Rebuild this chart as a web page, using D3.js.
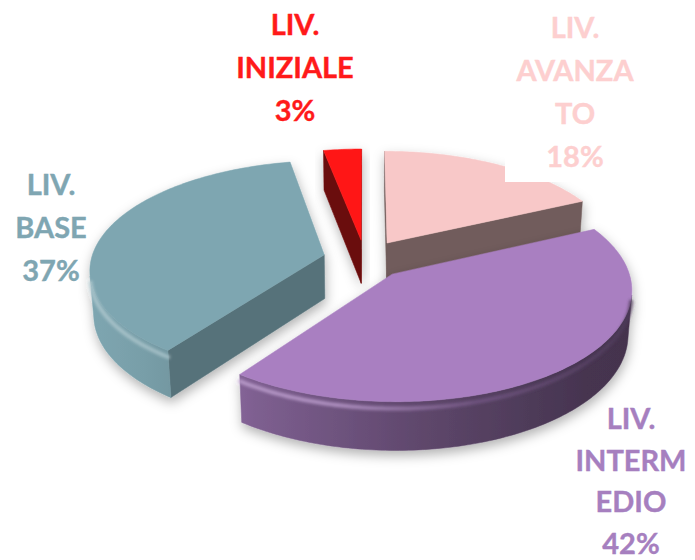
<!DOCTYPE html>
<html>
<head>
<meta charset="utf-8">
<script src="https://cdn.jsdelivr.net/npm/d3@7"></script>
<style>
  body { margin: 0; background: #fff; }
  svg { display: block; }
</style>
</head>
<body>
<svg id="pieChart" width="695" height="560"></svg>
<script>
// data, clockwise from 12 o'clock
const categories = ["LIV. AVANZATO", "LIV. INTERMEDIO", "LIV. BASE", "LIV. INIZIALE"];
const values = [18, 42, 37, 3];
const labelLines = [["LIV.", "AVANZA", "TO"], ["LIV.", "INTERM", "EDIO"], ["LIV.", "BASE"], ["LIV.", "INIZIALE"]];

// styles
const topColors = ["#f8c8c8", "#a97fc1", "#7ea6b1", "#ff1717"];
const cutColors = ["#715c5b", "#4e3c5a", "#57727a", "#6b0a0a"];
const textColors = ["#fdcfcf", "#a67fbf", "#7fa6b2", "#ff1a1a"];
const labelPos = [[575, 38, 43], [631, 429, 41.5], [51, 195, 43], [295, 35, 43]];

const svg = d3.select("#pieChart");
const defs = svg.append("defs");

// camera: tilted disc seen in perspective
const view = { cx: 365, cy: 259, k: 1631, D: 7, tilt: Math.asin(0.46) };
const sinT = Math.sin(view.tilt), cosT = Math.cos(view.tilt);
const thick = 0.215, explode = 0.18;
const cam = [0, view.D * sinT, view.D * cosT];

function project(X, Y, Z) {
  const depth = view.D - (Y * sinT + Z * cosT);
  return [view.cx + X * view.k / depth, view.cy - (Y * cosT - Z * sinT) * view.k / depth];
}
function facing(n, p) {
  return n[0] * (cam[0] - p[0]) + n[1] * (cam[1] - p[1]) + n[2] * (cam[2] - p[2]) > 0;
}

const pie = d3.pie().sort(null).value(d => d);
const arcs = pie(values);

// wall lighting across the picture, light from the left
const shade = d3.scaleLinear().domain([90, 180, 250, 430, 600]).range([1.0, 0.92, 0.75, 0.55, 0.4]).clamp(true);

const shadow = defs.append("filter").attr("id", "shadow")
  .attr("x", "-20%").attr("y", "-20%").attr("width", "140%").attr("height", "150%");
shadow.append("feDropShadow").attr("dx", 1).attr("dy", 5).attr("stdDeviation", 6)
  .attr("flood-color", "#000").attr("flood-opacity", 0.3);

defs.append("filter").attr("id", "soft")
  .append("feGaussianBlur").attr("stdDeviation", 1.6);

topColors.forEach((c, i) => {
  const g = defs.append("linearGradient").attr("id", "wall" + i)
    .attr("gradientUnits", "userSpaceOnUse").attr("x1", 90).attr("x2", 640).attr("y1", 0).attr("y2", 0);
  d3.range(0, 1.001, 0.1).forEach(t => {
    const x = 90 + t * 550;
    g.append("stop").attr("offset", t).attr("stop-color", d3.interpolateRgb(c, "#000")(1 - shade(x)));
  });
  // rim bevel: highlight on the left, dark on the right
  const b = defs.append("linearGradient").attr("id", "bevel" + i)
    .attr("gradientUnits", "userSpaceOnUse").attr("x1", 90).attr("x2", 640).attr("y1", 0).attr("y2", 0);
  b.append("stop").attr("offset", 0).attr("stop-color", d3.interpolateRgb(c, "#fff")(0.4));
  b.append("stop").attr("offset", 0.45).attr("stop-color", d3.interpolateRgb(c, "#fff")(0.25));
  b.append("stop").attr("offset", 0.7).attr("stop-color", d3.interpolateRgb(c, "#000")(0.3));
  b.append("stop").attr("offset", 1).attr("stop-color", d3.interpolateRgb(c, "#000")(0.55));
});

const line = d3.line();

const slices = arcs.map((a, i) => {
  const mid = (a.startAngle + a.endAngle) / 2;
  const ox = explode * Math.sin(mid), oz = -explode * Math.cos(mid);
  const n = Math.max(2, Math.ceil((a.endAngle - a.startAngle) / (Math.PI / 180)));
  const angs = d3.range(n + 1).map(j => a.startAngle + (a.endAngle - a.startAngle) * j / n);
  const rim = (t, Y) => project(ox + Math.sin(t), Y, oz - Math.cos(t));
  const apex = Y => project(ox, Y, oz);
  return { i, a, mid, ox, oz, angs, rim, apex, depth: oz - 0.5 * Math.cos(mid) };
});

slices.sort((p, q) => p.depth - q.depth);

const pieG = svg.append("g");

slices.forEach(s => {
  const g = pieG.append("g").attr("filter", "url(#shadow)");
  const i = s.i;

  // radial cut faces
  [[s.a.startAngle, -1], [s.a.endAngle, 1]].forEach(([t, sg]) => {
    const nrm = [sg * Math.cos(t), 0, sg * Math.sin(t)];
    if (!facing(nrm, [s.ox, 0, s.oz])) return;
    g.append("path")
      .attr("d", line([s.apex(0), s.rim(t, 0), s.rim(t, -thick), s.apex(-thick)]) + "Z")
      .attr("fill", cutColors[i]).attr("stroke", cutColors[i]).attr("stroke-width", 0.5);
  });

  // outer wall, visible run only
  const vis = s.angs.filter(t => facing([Math.sin(t), 0, -Math.cos(t)],
    [s.ox + Math.sin(t), 0, s.oz - Math.cos(t)]));
  if (vis.length > 1) {
    const pts = vis.map(t => s.rim(t, 0)).concat(vis.slice().reverse().map(t => s.rim(t, -thick)));
    g.append("path").attr("d", line(pts) + "Z")
      .attr("fill", `url(#wall${i})`).attr("stroke", `url(#wall${i})`).attr("stroke-width", 0.5);
  }

  // top face
  g.append("path")
    .attr("d", line([s.apex(0)].concat(s.angs.map(t => s.rim(t, 0)))) + "Z")
    .attr("fill", topColors[i]).attr("stroke", topColors[i]).attr("stroke-width", 0.5);

  // soft bevel along the front rim
  if (vis.length > 1) {
    g.append("path").attr("d", line(vis.map(t => s.rim(t, -0.03))))
      .attr("fill", "none").attr("stroke", `url(#bevel${i})`).attr("stroke-width", 4)
      .attr("stroke-linecap", "round").attr("filter", "url(#soft)").attr("opacity", 0.8);
  }
});

// labels
const labels = svg.append("g")
  .style("font-family", "Lato, 'Open Sans', sans-serif")
  .style("font-weight", "bold")
  .style("font-size", "29px")
  .attr("text-anchor", "middle");

arcs.forEach((a, i) => {
  const [x, y, gap] = labelPos[i];
  const lines = labelLines[i].concat([values[i] + "%"]);
  if (i === 0) {
    labels.append("rect").attr("x", 505).attr("y", 5)
      .attr("width", 140).attr("height", 177).attr("fill", "#fff");
  }
  lines.forEach((t, j) => {
    labels.append("text").attr("x", x).attr("y", y + j * gap)
      .attr("fill", textColors[i]).attr("stroke", textColors[i]).attr("stroke-width", 0.4)
      .text(t);
  });
});
</script>
</body>
</html>
